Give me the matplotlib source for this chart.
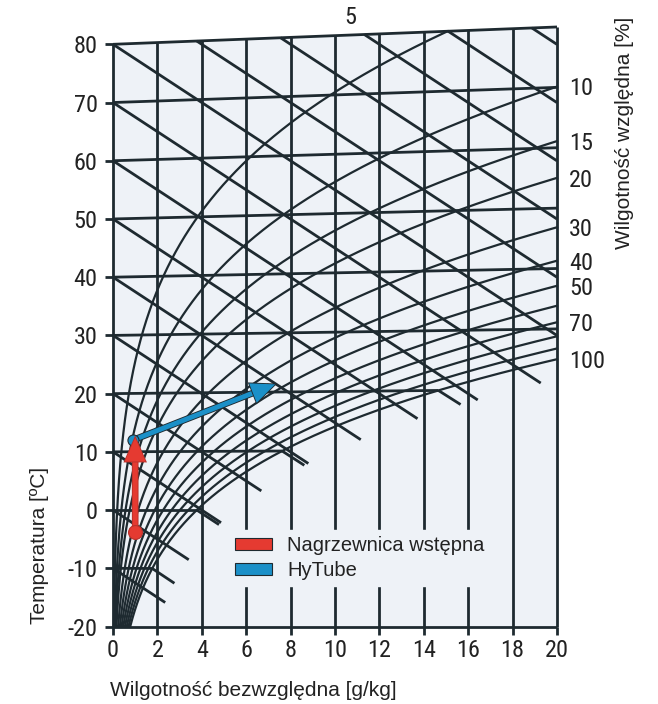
import numpy as np
import matplotlib
matplotlib.use("Agg")
import matplotlib.pyplot as plt
from matplotlib.patches import Polygon, Patch, FancyArrowPatch
import matplotlib.patheffects as pe

# ---------------- data ----------------
temperatures = [-20, -10, 0, 10, 20, 30, 40, 50, 60, 70, 80]          # isotherms [°C]
humidity_ticks = [0, 2, 4, 6, 8, 10, 12, 14, 16, 18, 20]               # x [g/kg]
rh_levels = [5, 10, 15, 20, 30, 40, 50, 60, 70, 80, 90, 100]           # RH curves [%]
rh_labeled = [10, 15, 20, 30, 40, 50, 70, 100]
enthalpy_levels = [-10, 0, 10, 20, 30, 40, 50, 60, 70, 80, 90, 100, 110, 120, 130]  # kJ/kg

preheat_x = [1.0, 1.0]       # Nagrzewnica wstępna
preheat_t = [-3.7, 12.4]
hytube_x = [0.9, 7.3]        # HyTube
hytube_t = [12.0, 21.3]

legend_labels = ["Nagrzewnica wstępna", "HyTube"]

# ---------------- physics helpers ----------------
P = 101325.0
T_MAX, T_MIN, X_MAX = 80.0, -20.0, 20.0


def psat(t):
    return 611.2 * np.exp(17.62 * t / (243.12 + t))


def xsat(t, phi=1.0):
    pv = phi * psat(t)
    return 622.0 * pv / (P - pv)


def Y(t, x):
    # skewed Mollier ordinate (cp_air = 1)
    return t + 1.86 * t * x / 1000.0


def Y_top(x):
    return Y(T_MAX, x)


# ---------------- styling ----------------
BG = "#eef2f7"
DARK = "#1e2a30"
RED = "#e53a31"
BLUE = "#1b90c8"
LW = 2.0
LW_RH = 1.6
tick_font = ["Roboto Condensed", "DejaVu Sans"]
lab_font = ["Liberation Sans", "DejaVu Sans"]

W, H = 658, 704
fig = plt.figure(figsize=(W / 100, H / 100), dpi=100)
px_left, px_right = 113.0, 557.0
py_80, py_m20 = 44.3, 626.5
ppu = (py_m20 - py_80) / 100.0
y_top_lim = 83.5
py_top = py_80 - (y_top_lim - 80) * ppu
ax = fig.add_axes([px_left / W, 1 - py_m20 / H, (px_right - px_left) / W, (py_m20 - py_top) / H])
ax.set_xlim(0, X_MAX)
ax.set_ylim(T_MIN, y_top_lim)
ax.patch.set_alpha(0)
for s in ax.spines.values():
    s.set_visible(False)

# background region
ax.add_patch(Polygon([(0, T_MIN), (X_MAX, T_MIN), (X_MAX, Y_top(X_MAX)), (0, Y_top(0))],
                     closed=True, facecolor=BG, edgecolor="none", zorder=0))

kw = dict(color=DARK, lw=LW, solid_capstyle="butt", clip_on=False, zorder=2)

# vertical lines (constant x)
for xv in humidity_ticks:
    ax.plot([xv, xv], [T_MIN, Y_top(xv)], **kw)
ax.plot([0, X_MAX], [T_MIN, T_MIN], **kw)

# isotherms (end shortly after saturation, fog extension)
for T in temperatures:
    xs = xsat(T)
    xe = min(X_MAX, xs)
    xx = np.array([0.0, xe])
    ax.plot(xx, Y(T, xx), **kw)
    if xs < X_MAX:
        x2 = min(X_MAX, xs + 1.0)
        y0 = Y(T, xs)
        slope = (4.19 * T - 2501.0) / 1000.0
        y2 = y0 + slope * (x2 - xs)
        if y2 < T_MIN:
            if y0 <= T_MIN:
                continue
            x2 = xs + (T_MIN - y0) / slope
            y2 = T_MIN
        ax.plot([xs, x2], [y0, y2], **kw)

# enthalpy lines
tg = np.linspace(-30, 90, 5000)
hs = tg + xsat(tg) / 1000.0 * (2501 + 1.86 * tg)
for h in enthalpy_levels:
    xa = 0.0 if h <= 80 else (h - 80) / (2.501 + 0.1488)
    th = np.interp(h, hs, tg)
    xb = min(X_MAX, xsat(th) + 1.0, (h - T_MIN) / 2.501)
    if xb <= xa:
        continue
    xx = np.array([xa, xb])
    ax.plot(xx, h - 2.501 * xx, **kw)

# relative humidity curves
t_line = np.linspace(T_MIN, T_MAX, 4000)
rh_end = {}
for rh in rh_levels:
    phi = rh / 100.0
    xx = xsat(t_line, phi)
    yy = Y(t_line, xx)
    m = xx <= X_MAX
    xc, yc = xx[m], yy[m]
    if not m.all():
        i = np.argmax(~m)
        f = (X_MAX - xx[i - 1]) / (xx[i] - xx[i - 1])
        xc = np.append(xc, X_MAX)
        yc = np.append(yc, yy[i - 1] + f * (yy[i] - yy[i - 1]))
    rh_end[rh] = (xc[-1], yc[-1])
    ax.plot(xc, yc, color=DARK, lw=LW_RH, clip_on=False, zorder=2)

# RH labels
for rh in rh_labeled:
    xe, ye = rh_end[rh]
    ax.text(20.55, ye - 0.4, str(rh), ha="left", va="center", fontsize=17.5,
            family=tick_font, color="#222222", clip_on=False)
fig.text(350 / W, 1 - 18 / H, "5", ha="center", va="center", fontsize=17.5,
         family=tick_font, color="#222222")


# process arrows
def arrow(xs_, ts_, color, zo, lw, ms, edge):
    p0 = (xs_[0], Y(ts_[0], xs_[0]))
    p1 = (xs_[1], Y(ts_[1], xs_[1]))
    ar = FancyArrowPatch(p0, p1, arrowstyle="-|>,head_length=1.1,head_width=0.48",
                         mutation_scale=10, lw=lw, color=color, shrinkA=0, shrinkB=0,
                         zorder=zo, joinstyle="miter", capstyle="butt")
    ar.set_path_effects([pe.Stroke(linewidth=lw + 1.3, foreground=edge), pe.Normal()])
    ax.add_patch(ar)
    ax.plot([p0[0]], [p0[1]], "o", ms=ms, color=color, mec=edge, mew=0.8, zorder=zo)


arrow(hytube_x, hytube_t, BLUE, 6, 3.5, 8, DARK)
arrow(preheat_x, preheat_t, RED, 7, 3.5, 10, "#b8312b")

# legend
handles = [Patch(facecolor=RED, edgecolor=DARK, lw=0.8),
           Patch(facecolor=BLUE, edgecolor=DARK, lw=0.8)]
leg = ax.legend(handles, legend_labels, loc="upper left",
                bbox_to_anchor=((229 - px_left) / (px_right - px_left),
                                (py_m20 - 530) / (py_m20 - py_top)),
                frameon=True, facecolor=BG, edgecolor=BG, framealpha=1,
                fancybox=False, handlelength=1.85, handleheight=0.6, handletextpad=0.75,
                labelspacing=0.3, borderpad=0.3, borderaxespad=0,
                prop={"family": lab_font, "size": 14.5})
leg.set_zorder(5)
for t in leg.get_texts():
    t.set_color("#222222")

# ticks
ax.set_yticks(temperatures)
ax.set_yticklabels([str(t) for t in temperatures])
ax.set_xticks(humidity_ticks)
ax.set_xticklabels([str(v) for v in humidity_ticks])
ax.tick_params(axis="both", direction="out", length=6, width=2, color=DARK,
               labelsize=17.5, labelcolor="#222222")
ax.tick_params(axis="y", pad=5)
ax.tick_params(axis="x", pad=3)
for lab in ax.get_xticklabels() + ax.get_yticklabels():
    lab.set_family(tick_font)

# axis titles
fig.text(40 / W, 1 - 545 / H, "Temperatura [ºC]", rotation=90, ha="center", va="center",
         fontsize=15, family=lab_font, color="#222222")
fig.text(110 / W, 1 - 690 / H, "Wilgotność bezwzględna [g/kg]", ha="left", va="center",
         fontsize=15, family=lab_font, color="#222222")
fig.text(625 / W, 1 - 133 / H, "Wilgotność względna [%]", rotation=90, ha="center",
         va="center", fontsize=15, family=lab_font, color="#222222")

fig.savefig("out.png", dpi=100, facecolor="white")
